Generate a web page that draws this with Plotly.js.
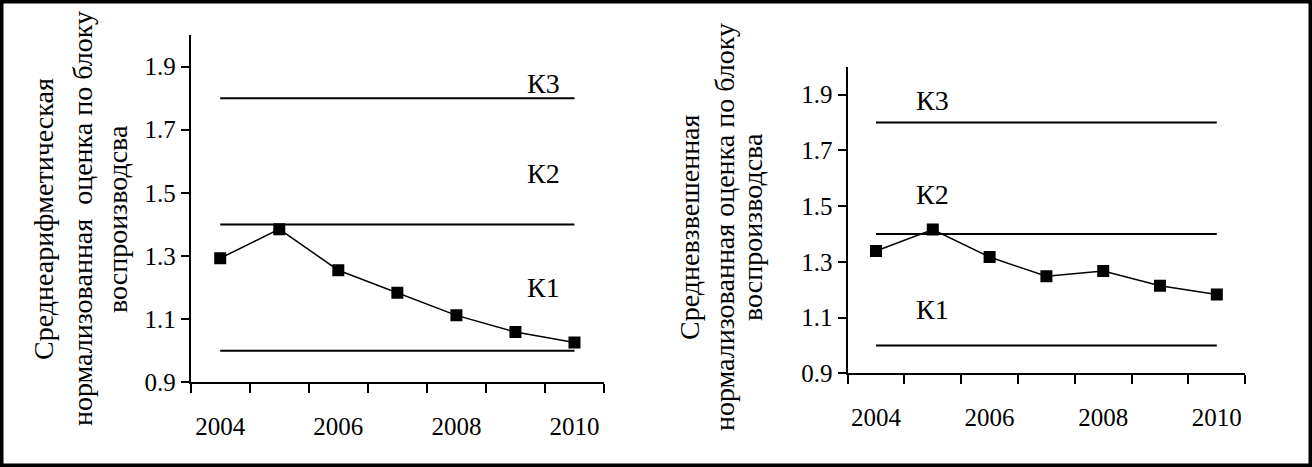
<!DOCTYPE html>
<html>
<head>
<meta charset="utf-8">
<script src="https://cdn.plot.ly/plotly-3.0.1.min.js"></script>
<style>
  html, body { margin: 0; padding: 0; background: #fff; }
  #chart { width: 1312px; height: 467px; }
  #chart text { font-family: 'Liberation Serif' !important; }
</style>
</head>
<body>
<div id="chart"></div>
<script>
// ---- data ----
const years = [2004, 2005, 2006, 2007, 2008, 2009, 2010];
const yearLabels = [2004, 2006, 2008, 2010];
const arithmeticMean = [1.293, 1.385, 1.255, 1.184, 1.112, 1.059, 1.026];
const weightedMean = [1.339, 1.416, 1.317, 1.248, 1.267, 1.214, 1.183];
const levelValues = [1.0, 1.4, 1.8];
const levelNames = ['К1', 'К2', 'К3'];
const leftLabelY = [1.2, 1.56, 1.845];
const rightLabelY = [1.13, 1.542, 1.879];
const leftLabelX = 2009.47;
const rightLabelX = 2005;
const yTicks = [0.9, 1.1, 1.3, 1.5, 1.7, 1.9];
const leftTitleLines = ['Среднеарифметическая', 'нормализованная  оценка по блоку', 'воспроизводсва'];
const rightTitleLines = ['Средневзвешенная', 'нормализованная оценка по блоку', 'воспроизводсва'];

const W = 1312, H = 467;

const traces = [];
['x', 'x2'].forEach((xa, i) => {
  const ya = i === 0 ? 'y' : 'y2';
  levelValues.forEach(v => {
    traces.push({
      x: [years[0], years[years.length - 1]], y: [v, v],
      xaxis: xa, yaxis: ya, mode: 'lines',
      line: {color: '#000', width: 2}, hoverinfo: 'skip', showlegend: false
    });
  });
  traces.push({
    x: years, y: i === 0 ? arithmeticMean : weightedMean,
    xaxis: xa, yaxis: ya, mode: 'lines+markers',
    line: {color: '#000', width: 1.5},
    marker: {symbol: 'square', size: 12, color: '#000'},
    showlegend: false
  });
});

function xAxis(domain, anchor) {
  return {
    domain: domain, anchor: anchor, range: [2003.5, 2010.5],
    tickmode: 'array', tickvals: yearLabels, ticktext: yearLabels.map(String),
    ticks: '', showgrid: false, zeroline: false,
    showline: true, linecolor: '#000', linewidth: 2,
    tickfont: {family: 'Liberation Serif', size: 25, color: '#000'},
    ticklabelstandoff: 21,
    minor: {tickmode: 'linear', tick0: 2003.5, dtick: 1, ticks: 'outside',
            ticklen: 9, tickwidth: 2, tickcolor: '#000', showgrid: false},
    fixedrange: true
  };
}
function yAxis(domain, anchor) {
  return {
    domain: domain, anchor: anchor, range: [0.9, 2.0],
    tickmode: 'array', tickvals: yTicks, ticktext: yTicks.map(v => v.toFixed(1)),
    ticks: 'outside', ticklen: 8, tickwidth: 2, tickcolor: '#000',
    showgrid: false, zeroline: false,
    showline: true, linecolor: '#000', linewidth: 2,
    tickfont: {family: 'Liberation Serif', size: 25, color: '#000'},
    fixedrange: true
  };
}

const annotations = [];
levelNames.forEach((name, k) => {
  annotations.push({xref: 'x', yref: 'y', x: leftLabelX, y: leftLabelY[k], text: name,
    showarrow: false, font: {family: 'Liberation Serif', size: 28, color: '#000'}});
  annotations.push({xref: 'x2', yref: 'y2', x: rightLabelX, y: rightLabelY[k], text: name,
    showarrow: false, font: {family: 'Liberation Serif', size: 28, color: '#000'}});
});
const leftTitleX = [43, 82, 117], leftTitleY = 219;
const rightTitleX = [689, 724, 752], rightTitleY = 227;
leftTitleLines.forEach((t, k) => annotations.push({
  xref: 'paper', yref: 'paper', x: leftTitleX[k] / W, y: 1 - leftTitleY / H,
  xanchor: 'center', yanchor: 'middle', text: t, textangle: -90, showarrow: false,
  font: {family: 'Liberation Serif', size: 28, color: '#000'}
}));
rightTitleLines.forEach((t, k) => annotations.push({
  xref: 'paper', yref: 'paper', x: rightTitleX[k] / W, y: 1 - rightTitleY / H,
  xanchor: 'center', yanchor: 'middle', text: t, textangle: -90, showarrow: false,
  font: {family: 'Liberation Serif', size: 28, color: '#000'}
}));

const layout = {
  width: W, height: H,
  margin: {l: 0, r: 0, t: 0, b: 0},
  paper_bgcolor: '#fff', plot_bgcolor: 'rgba(0,0,0,0)',
  font: {family: 'Liberation Serif', color: '#000'},
  showlegend: false,
  xaxis: xAxis([190.7 / W, 604 / W], 'y'),
  yaxis: yAxis([1 - 382.3 / H, 1 - 35 / H], 'x'),
  xaxis2: xAxis([847.6 / W, 1245.2 / W], 'y2'),
  yaxis2: yAxis([1 - 373.3 / H, 1 - 66.7 / H], 'x2'),
  annotations: annotations,
  shapes: [{type: 'rect', xref: 'paper', yref: 'paper', x0: 0, x1: 1, y0: 0, y1: 1,
            line: {color: '#000', width: 7}}]
};

Plotly.newPlot('chart', traces, layout, {displayModeBar: false, staticPlot: true});
</script>
</body>
</html>
